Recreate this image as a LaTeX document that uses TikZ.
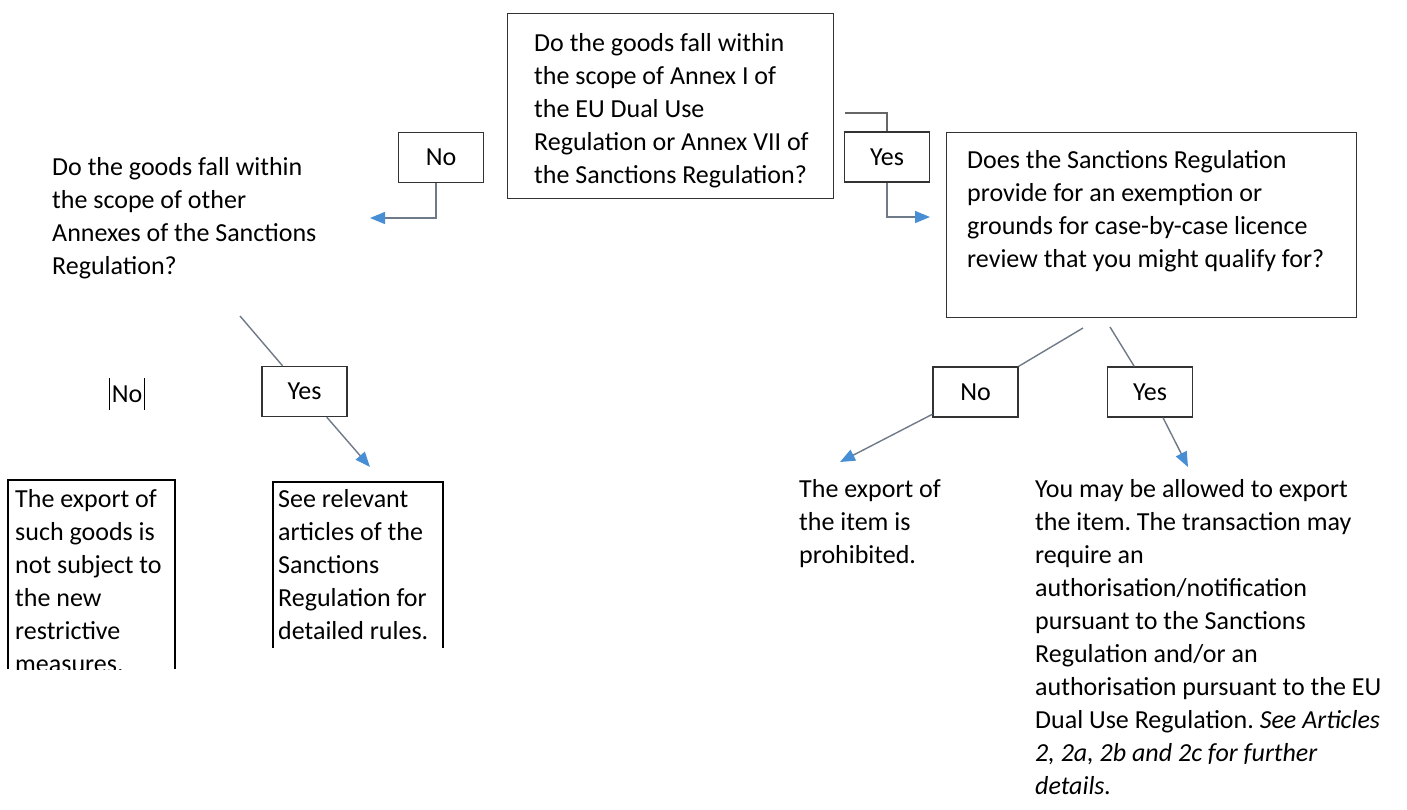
\documentclass[tikz,border=0pt]{standalone}
\usepackage{fontspec}
\setmainfont{Carlito}
\usetikzlibrary{arrows.meta}
\frenchspacing

\definecolor{linkgray}{RGB}{110,122,135}
\definecolor{tipblue}{RGB}{72,142,212}

\begin{document}
\begin{tikzpicture}[x=1pt, y=-1pt,
    txt/.style={inner sep=0pt, anchor=base west, align=left, font=\fontsize{26}{33}\selectfont},
    qbox/.style={draw=black!80, line width=1.3pt, anchor=north west, inner sep=0pt},
    ans/.style={draw=black!80, line width=1.3pt, fill=white, inner sep=0pt, minimum width=85pt, minimum height=50pt, font=\fontsize{26}{33}\selectfont},
    plainlink/.style={draw=linkgray, line width=1.4pt},
    link/.style={plainlink, -{Triangle[length=15pt, width=12pt, color=tipblue]}},
    cutbox/.style={black, line width=2.2pt}]
    \useasboundingbox (0,0) rectangle (1407,809);

    % questions (text placed at its last baseline)
    \node[qbox, minimum width=326pt, minimum height=185pt] (q1) at (507,13) {};
    \node[txt] (q1t) at (534,183) {Do the goods fall within\\the scope of Annex I of\\the EU Dual Use\\Regulation or Annex VII of\\the Sanctions Regulation?};
    \node[qbox, minimum width=410pt, minimum height=185pt] (q2) at (946,132) {};
    \node[txt] (q2t) at (967,267) {Does the Sanctions Regulation\\provide for an exemption or\\grounds for case-by-case licence\\review that you might qualify for?};
    \node[txt] (q3t) at (52,274) {Do the goods fall within\\the scope of other\\Annexes of the Sanctions\\Regulation?};

    % first answers
    \node[ans] (no1) at (441,157.5) {No};
    \node[ans] (yes1) at (887,157) {Yes};
    \coordinate (y1s) at (845,113);
    \coordinate (y1e) at (930,217);
    \coordinate (n1e) at (370,218);
    \draw[plainlink, draw=black!60] (y1s) -| (yes1.north);
    \draw[link] (yes1.south) |- (y1e);
    \draw[link] ([xshift=-5pt]no1.south) |- (n1e);

    % diagonal answers
    \coordinate (a2s) at (240,316);
    \coordinate (a2e) at (370,467);
    \coordinate (n2s) at (1083,328);
    \coordinate (n2e) at (840,462);
    \coordinate (y3s) at (1110,327);
    \coordinate (y3e) at (1188,467);
    \node[ans] (yes2) at (304.5,391.5) {Yes};
    \node[ans] (no2) at (975.5,392) {No};
    \node[ans] (yes3) at (1150,392) {Yes};
    \draw[plainlink] (a2s) -- (yes2);
    \draw[link] (yes2) -- (a2e);
    \draw[plainlink] (n2s) -- (no2);
    \draw[link] (no2) -- (n2e);
    \draw[plainlink] (y3s) -- (yes3);
    \draw[link] (yes3) -- (y3e);

    \node[inner xsep=2pt, inner ysep=0pt, minimum height=32pt, font=\fontsize{26}{33}\selectfont] (no3) at (127,394) {No};
    \draw[black, line width=1.8pt] (no3.north west) -- (no3.south west) (no3.north east) -- (no3.south east);

    % outcomes
    \begin{scope}
        \clip (0,470) rectangle (200,669);
        \node[txt] (expt) at (15,672) {The export of\\such goods is\\not subject to\\the new\\restrictive\\measures.};
    \end{scope}
    \draw[cutbox] (8,669) |- (175,480) -- (175,669);
    \node[txt] (rules) at (278,639) {See relevant\\articles of the\\Sanctions\\Regulation for\\detailed rules.};
    \draw[cutbox] (273,648) |- (443,482) -- (443,648);

    \node[txt] (proh) at (799,563) {The export of\\the item is\\prohibited.};
    \node[txt] (allow) at (1035,794) {You may be allowed to export\\the item. The transaction may\\require an\\authorisation/notification\\pursuant to the Sanctions\\Regulation and/or an\\authorisation pursuant to the EU\\Dual Use Regulation. \textit{See Articles}\\\textit{2, 2a, 2b and 2c for further}\\\textit{details.}};
\end{tikzpicture}
\end{document}
